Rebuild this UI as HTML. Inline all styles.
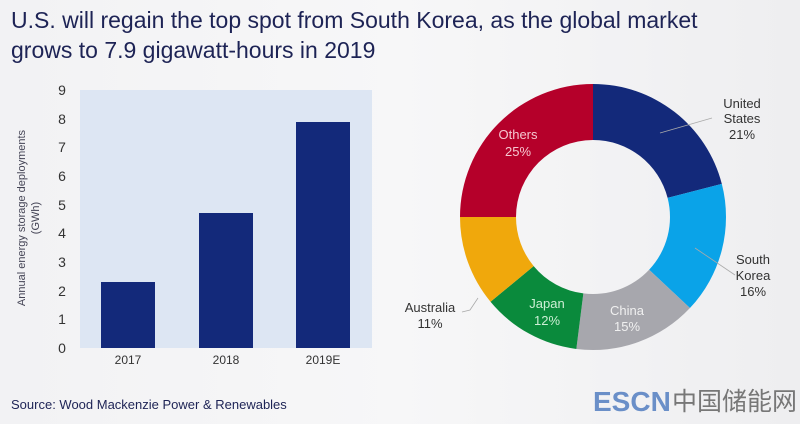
<!DOCTYPE html>
<html><head><meta charset="utf-8"><style>
body{margin:0;width:800px;height:419px;overflow:hidden;background:linear-gradient(90deg,#f2f2f4,#f7f7f8 50%,#eeeef0);font-family:"Liberation Sans",sans-serif}
</style></head><body>
<svg id="s" width="800" height="419" xmlns="http://www.w3.org/2000/svg" font-family="Liberation Sans, sans-serif">
<text x="11" y="28" font-size="23" fill="#1d2355">U.S. will regain the top spot from South Korea, as the global market</text>
<text x="11" y="58" font-size="23" fill="#1d2355">grows to 7.9 gigawatt-hours in 2019</text>
<rect x="80" y="90" width="292" height="258" fill="#dde6f3"/>
<rect x="101" y="282" width="54" height="66" fill="#13297a"/>
<rect x="199" y="213" width="54" height="135" fill="#13297a"/>
<rect x="296" y="122" width="54" height="226" fill="#13297a"/>
<g font-size="14" fill="#333" text-anchor="middle">
<text x="62" y="353">0</text><text x="62" y="324">1</text><text x="62" y="296">2</text><text x="62" y="267">3</text><text x="62" y="238">4</text><text x="62" y="210">5</text><text x="62" y="181">6</text><text x="62" y="152">7</text><text x="62" y="124">8</text><text x="62" y="95">9</text>
</g>
<g font-size="12" fill="#333" text-anchor="middle">
<text x="128" y="364">2017</text><text x="226" y="364">2018</text><text x="323" y="364">2019E</text>
</g>
<g font-size="11" fill="#445" text-anchor="middle" transform="rotate(-90)">
<text x="-218" y="25">Annual energy storage deployments</text>
<text x="-218" y="39">(GWh)</text>
</g>
<g id="d"></g>
<line x1="660" y1="133" x2="712" y2="118" stroke="#aaa" stroke-width="0.8"/>
<line x1="695" y1="248" x2="735" y2="275" stroke="#aaa" stroke-width="0.8"/>
<polyline points="478,298 470,310 462,312" fill="none" stroke="#aaa" stroke-width="0.8"/>
<g font-size="13" text-anchor="middle">
<text x="742" y="108" fill="#333">United</text><text x="742" y="123" fill="#333">States</text><text x="742" y="139" fill="#333">21%</text>
<text x="753" y="264" fill="#333">South</text><text x="753" y="280" fill="#333">Korea</text><text x="753" y="296" fill="#333">16%</text>
<text x="430" y="312" fill="#333">Australia</text><text x="430" y="328" fill="#333">11%</text>
<text x="518" y="139" fill="#f5c6d0">Others</text><text x="518" y="156" fill="#f5c6d0">25%</text>
<text x="547" y="308" fill="#cdeed5">Japan</text><text x="547" y="325" fill="#cdeed5">12%</text>
<text x="627" y="315" fill="#f0f0f0">China</text><text x="627" y="331" fill="#f0f0f0">15%</text>
</g>
<text x="11" y="409" font-size="13" fill="#1d2355">Source:  Wood Mackenzie Power &amp; Renewables</text>
<text x="593" y="411" font-size="28" font-weight="bold" fill="#6a8fc8">ESCN</text>
<text x="672" y="410" font-size="25" fill="#777" font-family="Liberation Sans, Noto Sans CJK SC, sans-serif">中国储能网</text>
</svg>
<script>
var cx=593,cy=217,R=133,r=77,a=0,g=document.getElementById('d');
[[21,'#13297a'],[16,'#0aa3e8'],[15,'#a7a7ad'],[12,'#0a8a3c'],[11,'#f0a80c'],[25,'#b5002a']].forEach(function(s){
var b=a+s[0]/100*2*Math.PI;function p(rr,t){return (cx+rr*Math.sin(t)).toFixed(2)+','+(cy-rr*Math.cos(t)).toFixed(2)}
var l=(b-a)>Math.PI?1:0;
var e=document.createElementNS('http://www.w3.org/2000/svg','path');
e.setAttribute('d','M'+p(R,a)+'A'+R+','+R+' 0 '+l+' 1 '+p(R,b)+'L'+p(r,b)+'A'+r+','+r+' 0 '+l+' 0 '+p(r,a)+'Z');
e.setAttribute('fill',s[1]);g.appendChild(e);a=b;});
</script>
</body></html>
